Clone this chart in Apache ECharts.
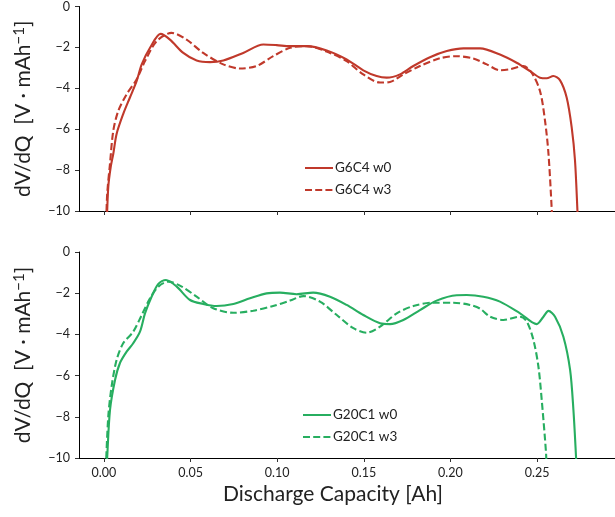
<!DOCTYPE html>
<html>
<head>
<meta charset="utf-8">
<script src="https://cdn.jsdelivr.net/npm/echarts@6/dist/echarts.min.js"></script>
<style>
html,body{margin:0;padding:0;background:#fff;}
#chart{width:615px;height:517px;}
</style>
</head>
<body>
<div id="chart"></div>
<script>
// ---- data ----
const xTicks = [0.00, 0.05, 0.10, 0.15, 0.20, 0.25];
const yTicks = [0, -2, -4, -6, -8, -10];
const seriesNames = ['G6C4 w0', 'G6C4 w3', 'G20C1 w0', 'G20C1 w3'];

const g6c4_w0_x = [0.0017,0.0025,0.0039,0.0054,0.0073,0.0111,0.015,0.0189,0.0218,0.0266,0.0327,0.0381,0.0458,0.0535,0.0612,0.0689,0.0804,0.092,0.0997,0.1074,0.117,0.1286,0.1401,0.1497,0.1574,0.1632,0.1709,0.1786,0.1882,0.1979,0.2075,0.2171,0.2286,0.2382,0.246,0.2517,0.2556,0.2594,0.2633,0.2671,0.27,0.2719,0.2733,0.2735];
const g6c4_w0_y = [-10.5,-8.82,-7.85,-7.2,-6.23,-5.26,-4.45,-3.64,-2.83,-2.02,-1.34,-1.62,-2.27,-2.64,-2.72,-2.64,-2.27,-1.86,-1.89,-1.94,-1.94,-2.15,-2.59,-3.12,-3.40,-3.48,-3.32,-2.91,-2.48,-2.18,-2.05,-2.05,-2.35,-2.75,-3.16,-3.48,-3.51,-3.40,-3.61,-4.45,-5.91,-7.52,-9.95,-10.5];

const g6c4_w3_x = [0.0013,0.0019,0.0035,0.0054,0.0083,0.0131,0.0189,0.0237,0.0304,0.039,0.0477,0.0573,0.0689,0.0785,0.0881,0.0977,0.1074,0.117,0.1305,0.1401,0.1497,0.1594,0.1651,0.1728,0.1824,0.194,0.2036,0.2132,0.221,0.2286,0.2344,0.2421,0.2469,0.2517,0.2546,0.2566,0.2585,0.2587];
const g6c4_w3_y = [-10.5,-9.14,-7.68,-6.07,-5.10,-4.29,-3.56,-2.67,-1.70,-1.29,-1.62,-2.27,-2.83,-3.03,-2.91,-2.43,-2.02,-1.94,-2.27,-2.67,-3.32,-3.72,-3.69,-3.32,-2.91,-2.53,-2.43,-2.54,-2.83,-3.12,-3.07,-2.91,-3.24,-4.13,-5.58,-7.2,-9.95,-10.5];

const g20c1_w0_x = [0.0017,0.0019,0.0035,0.0064,0.0092,0.0131,0.0169,0.0208,0.0237,0.0275,0.0314,0.0358,0.042,0.0497,0.0573,0.065,0.0747,0.0843,0.0939,0.1016,0.1112,0.1208,0.1305,0.1401,0.1497,0.1594,0.1651,0.1728,0.1824,0.192,0.2036,0.2094,0.219,0.2286,0.2402,0.2498,0.2537,0.2566,0.2604,0.2652,0.2691,0.271,0.2725,0.2727];
const g20c1_w0_y = [-10.5,-9.94,-7.67,-6.21,-5.40,-4.84,-4.43,-3.87,-2.98,-2.17,-1.55,-1.36,-1.68,-2.33,-2.52,-2.62,-2.52,-2.25,-2.01,-1.97,-2.05,-1.97,-2.17,-2.57,-3.06,-3.46,-3.50,-3.30,-2.82,-2.36,-2.10,-2.09,-2.17,-2.41,-2.98,-3.50,-3.14,-2.86,-3.14,-4.11,-5.73,-7.67,-9.94,-10.5];

const g20c1_w3_x = [0.0011,0.0025,0.0044,0.0073,0.0111,0.0169,0.0218,0.0266,0.0314,0.0371,0.0449,0.0535,0.0631,0.0747,0.0862,0.0977,0.1074,0.1151,0.1247,0.1344,0.144,0.1517,0.1594,0.169,0.1786,0.1901,0.2017,0.2113,0.2171,0.2229,0.2306,0.2402,0.2441,0.2479,0.2508,0.2527,0.2552,0.2554];
const g20c1_w3_y = [-10.5,-7.99,-6.54,-5.24,-4.43,-3.87,-3.06,-2.25,-1.68,-1.44,-1.68,-2.17,-2.73,-2.95,-2.85,-2.62,-2.36,-2.14,-2.41,-3.06,-3.70,-3.92,-3.62,-2.98,-2.62,-2.46,-2.46,-2.57,-2.75,-3.14,-3.30,-3.14,-3.38,-4.27,-5.57,-7.18,-9.77,-10.5];

// ---- chart ----
const RED = '#c0392b';
const GREEN = '#27ae60';
const FONT = 'Lato, "Open Sans", sans-serif';
const zip = (xs, ys) => xs.map((x, i) => [x, ys[i]]);
const fmtY = v => String(v).replace('-', '\u2212');

function xAxisDef(idx, showLabels) {
  return {
    type: 'value', gridIndex: idx, min: -0.0144, max: 0.295,
    axisLine: { show: true, onZero: false, lineStyle: { color: '#000', width: 1 } },
    axisTick: { show: true, inside: false, length: 4, customValues: xTicks, lineStyle: { color: '#333' } },
    axisLabel: { show: showLabels, customValues: xTicks, margin: 8, fontSize: 12.5, color: '#222', fontFamily: FONT,
      formatter: v => v.toFixed(2) },
    splitLine: { show: false },
    name: showLabels ? 'Discharge Capacity [Ah]' : '',
    nameLocation: 'middle', nameGap: 26,
    nameTextStyle: { fontSize: 21, color: '#222', fontFamily: FONT, padding: [0, 28, 0, 0] }
  };
}
function yAxisDef(idx) {
  return {
    type: 'value', gridIndex: idx, min: -10, max: 0, interval: 2,
    axisLine: { show: true, onZero: false, lineStyle: { color: '#000', width: 1 } },
    axisTick: { show: true, inside: false, length: 4, lineStyle: { color: '#333' } },
    axisLabel: { margin: 9, fontSize: 12.5, color: '#222', fontFamily: FONT, formatter: fmtY },
    splitLine: { show: false },
    name: 'dV/dQ  [V \u00B7 mAh{sup|\u22121}]',
    nameLocation: 'middle', nameGap: 44, nameRotate: 90,
    nameTextStyle: { fontSize: 21, color: '#222', fontFamily: FONT,
      rich: { sup: { fontSize: 15, verticalAlign: 'top', padding: [0, 0, 8, 0], color: '#222', fontFamily: FONT } } }
  };
}
function lineSeries(name, idx, data, color, dashed) {
  return {
    name, type: 'line', xAxisIndex: idx, yAxisIndex: idx, data,
    symbol: 'none', smooth: 0.3, clip: true,
    lineStyle: { color, width: 2.1, type: dashed ? [7, 3.2] : 'solid' },
    itemStyle: { color }
  };
}

const legendCommon = {
  orient: 'vertical', itemWidth: 28, itemHeight: 14, itemGap: 8,
  itemStyle: { opacity: 0, borderWidth: 0 },
  textStyle: { fontSize: 13.5, color: '#222', fontFamily: FONT, padding: [0, 0, 0, -3] }
};

const chart = echarts.init(document.getElementById('chart'), null, { renderer: 'canvas' });
chart.setOption({
  animation: false,
  backgroundColor: '#fff',
  grid: [
    { left: 79, top: 5, width: 536, height: 206 },
    { left: 79, top: 252, width: 536, height: 206 }
  ],
  xAxis: [xAxisDef(0, false), xAxisDef(1, true)],
  yAxis: [yAxisDef(0), yAxisDef(1)],
  legend: [
    Object.assign({ data: [seriesNames[0], seriesNames[1]], left: 299, top: 156 }, legendCommon),
    Object.assign({ data: [seriesNames[2], seriesNames[3]], left: 297, top: 403 }, legendCommon)
  ],
  series: [
    lineSeries(seriesNames[0], 0, zip(g6c4_w0_x, g6c4_w0_y), RED, false),
    lineSeries(seriesNames[1], 0, zip(g6c4_w3_x, g6c4_w3_y), RED, true),
    lineSeries(seriesNames[2], 1, zip(g20c1_w0_x, g20c1_w0_y), GREEN, false),
    lineSeries(seriesNames[3], 1, zip(g20c1_w3_x, g20c1_w3_y), GREEN, true)
  ]
});
</script>
</body>
</html>
